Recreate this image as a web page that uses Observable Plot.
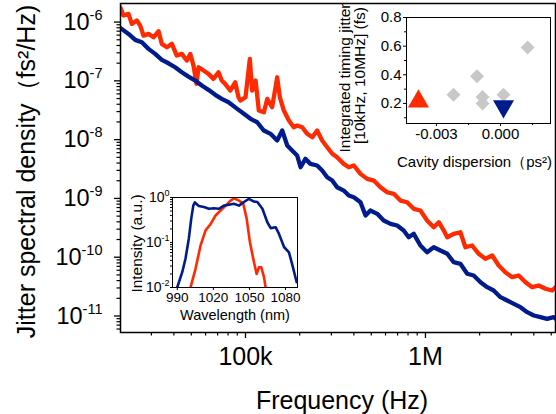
<!DOCTYPE html>
<html><head><meta charset="utf-8">
<script src="https://cdn.jsdelivr.net/npm/d3@7"></script>
<script src="https://cdn.jsdelivr.net/npm/@observablehq/plot@0.6"></script>
<style>
body{margin:0;background:#fff;}
#wrap{position:relative;width:556px;height:414px;overflow:hidden;}
#wrap svg{position:absolute;}
</style></head><body><div id="wrap"></div>
<script>
const FONT = '"Liberation Sans", Arial, Helvetica, sans-serif';
const RED = "#ff2a00";
const BLUE = "#001c8c";
const GRAY = "#c8c8c8";

// ---- main panel: jitter spectral density (log10 Hz, log10 fs^2/Hz) ----
const redLog10Freq = [4.304,4.322,4.350,4.368,4.396,4.415,4.433,4.461,4.489,4.517,4.535,4.563,4.591,4.618,4.646,4.674,4.693,4.711,4.728,4.739,4.767,4.794,4.822,4.850,4.868,4.887,4.915,4.943,4.961,4.972,5.000,5.024,5.037,5.056,5.074,5.102,5.121,5.148,5.176,5.191,5.213,5.241,5.268,5.287,5.315,5.343,5.371,5.398,5.426,5.454,5.482,5.509,5.546,5.574,5.602,5.639,5.676,5.713,5.750,5.787,5.824,5.861,5.898,5.935,5.972,6.009,6.046,6.074,6.102,6.121,6.157,6.194,6.222,6.259,6.296,6.333,6.371,6.407,6.444,6.482,6.518,6.556,6.593,6.629,6.667,6.704,6.724];
const redLog10Psd = [-5.748,-5.889,-5.861,-6.031,-5.974,-6.060,-6.230,-6.201,-6.259,-6.156,-6.371,-6.429,-6.371,-6.570,-6.541,-6.655,-6.541,-6.740,-7.050,-6.769,-6.825,-6.881,-6.966,-6.854,-6.995,-7.051,-7.165,-7.024,-7.279,-7.335,-7.279,-6.626,-7.165,-6.995,-7.505,-7.534,-7.306,-7.449,-6.939,-7.279,-7.505,-7.675,-7.789,-7.760,-7.789,-7.901,-7.959,-7.845,-8.015,-8.129,-8.241,-8.299,-8.412,-8.469,-8.440,-8.582,-8.667,-8.696,-8.810,-8.895,-8.922,-9.036,-9.065,-9.177,-9.206,-9.376,-9.490,-9.405,-9.546,-9.660,-9.602,-9.575,-9.830,-9.801,-9.942,-10.027,-9.971,-10.141,-10.255,-10.340,-10.311,-10.425,-10.510,-10.481,-10.537,-10.566,-10.510];
const blueLog10Freq = [4.304,4.350,4.387,4.424,4.461,4.498,4.535,4.572,4.609,4.646,4.683,4.721,4.757,4.794,4.832,4.868,4.906,4.954,4.991,5.028,5.065,5.102,5.139,5.176,5.204,5.232,5.259,5.287,5.306,5.333,5.361,5.398,5.426,5.454,5.482,5.509,5.546,5.574,5.602,5.639,5.667,5.694,5.732,5.768,5.806,5.843,5.879,5.907,5.935,5.972,6.009,6.046,6.083,6.121,6.157,6.194,6.232,6.268,6.306,6.343,6.379,6.417,6.454,6.491,6.528,6.565,6.602,6.639,6.676,6.713,6.725];
const blueLog10Psd = [-6.099,-6.201,-6.303,-6.344,-6.456,-6.541,-6.643,-6.701,-6.769,-6.854,-6.927,-6.995,-7.080,-7.153,-7.238,-7.306,-7.364,-7.476,-7.561,-7.646,-7.704,-7.845,-7.901,-8.015,-7.845,-8.100,-8.185,-8.270,-8.469,-8.327,-8.412,-8.440,-8.526,-8.639,-8.696,-8.810,-8.866,-8.950,-8.980,-9.065,-9.291,-9.206,-9.262,-9.376,-9.432,-9.461,-9.546,-9.660,-9.602,-9.801,-9.915,-9.830,-9.886,-9.942,-10.085,-10.112,-10.282,-10.311,-10.425,-10.510,-10.566,-10.680,-10.736,-10.793,-10.850,-10.935,-10.991,-11.020,-11.048,-11.020,-11.050];
const freqTicks = [1e5, 1e6];
const freqTickLabels = ["100k", "1M"];
const psdTicks = [1e-6, 1e-7, 1e-8, 1e-9, 1e-10, 1e-11];
const psdTickLabels = ["10⁻⁶", "10⁻⁷", "10⁻⁸", "10⁻⁹", "10⁻¹⁰", "10⁻¹¹"];

// ---- inset: optical spectrum (nm, log10 intensity a.u.) ----
const specBlueNm = [989.9,994.1,996.8,999.6,1001.6,1003.3,1004.6,1007.9,1012.1,1016.3,1020.4,1024.6,1028.8,1032.9,1037.1,1041.3,1045.4,1049.6,1053.8,1056.6,1060.8,1064.9,1067.7,1071.8,1074.6,1078.8,1082.9,1085.8,1089.3];
const specBlueLog10I = [-2.0,-1.66,-1.36,-0.91,-0.47,-0.18,-0.11,-0.19,-0.21,-0.25,-0.24,-0.25,-0.18,-0.16,-0.14,-0.18,-0.10,-0.03,-0.09,-0.10,-0.25,-0.55,-0.68,-0.66,-0.81,-1.10,-1.22,-1.51,-1.88];
const specRedNm = [1001.0,1005.2,1009.3,1013.5,1017.7,1021.8,1026.0,1030.2,1034.3,1037.1,1041.3,1044.9,1047.7,1050.4,1053.8,1056.0,1057.9,1059.9,1062.1,1063.5];
const specRedLog10I = [-2.0,-1.58,-1.07,-0.73,-0.59,-0.40,-0.29,-0.18,-0.07,-0.02,-0.07,-0.14,-0.47,-0.99,-1.44,-1.70,-1.55,-1.55,-1.77,-2.0];
const wlTicks = [990, 1020, 1050, 1080];
const intTicks = [1, 0.1, 0.01];
const intTickLabels = ["10⁰", "10⁻¹", "10⁻²"];

// ---- inset: integrated jitter vs cavity dispersion ----
const otherDispersion = [-0.0022, -0.0011, -0.00084, -0.00084, 0.00014, 0.00127];
const otherJitter = [0.26, 0.39, 0.245, 0.20, 0.26, 0.59];
const redDispersion = [-0.00384];
const redJitter = [0.214];
const blueDispersion = [0.00014];
const blueJitter = [0.18];
const dispTicks = [-0.003, 0];
const dispTickLabels = ["-0.003", "0.000"];
const dispMinorTicks = [-0.0015, 0.0015];
const jitTicks = [0.2, 0.4, 0.6, 0.8];
const jitMinorTicks = [0.1, 0.3, 0.5, 0.7];

// ---------- build tables ----------
const redSeries = redLog10Freq.map((f, i) => ({f: 10 ** f, s: 10 ** redLog10Psd[i]}));
const blueSeries = blueLog10Freq.map((f, i) => ({f: 10 ** f, s: 10 ** blueLog10Psd[i]}));
const specBlue = specBlueNm.map((w, i) => ({w, v: 10 ** specBlueLog10I[i]}));
const specRed = specRedNm.map((w, i) => ({w, v: 10 ** specRedLog10I[i]}));

function minorLog(lo, hi, e0, e1) {
  const out = [];
  for (let e = e0; e <= e1; e++) for (let k = 2; k <= 9; k++) {
    const v = k * 10 ** e;
    if (v > lo && v < hi) out.push(v);
  }
  return out;
}
const xDom = [20200, 5.28e6];
const yDom = [5.24e-12, 2.07e-6];
const freqMinor = minorLog(xDom[0], xDom[1], 4, 6);
const psdMinor = minorLog(yDom[0], yDom[1], -12, -7);
const intMinor = minorLog(0.01, 1, -2, -1);

// render "10⁻⁶"-style labels as "10" + a raised, smaller tspan
const SUP = {"⁻": "-", "⁰": "0", "¹": "1", "²": "2", "³": "3", "⁴": "4", "⁵": "5", "⁶": "6", "⁷": "7", "⁸": "8", "⁹": "9"};
function superscriptify(svg, supSize, rise) {
  d3.select(svg).selectAll("text").each(function () {
    const m = /^10([⁻⁰¹²³⁴⁵⁶⁷⁸⁹]+)$/.exec(this.textContent);
    if (!m) return;
    const sup = [...m[1]].map(c => SUP[c]).join("");
    const sel = d3.select(this);
    sel.text("10");
    sel.append("tspan").attr("dy", -rise).attr("font-size", supSize).text(sup);
  });
}

const wrap = document.getElementById("wrap");

const main = Plot.plot({
  width: 556, height: 414,
  marginLeft: 120, marginRight: 1, marginTop: 3, marginBottom: 82,
  style: {fontFamily: FONT, background: "white", color: "black"},
  x: {type: "log", domain: xDom},
  y: {type: "log", domain: yDom},
  marks: [
    Plot.line(redSeries, {x: "f", y: "s", stroke: RED, strokeWidth: 4.3, strokeLinejoin: "round", clip: true}),
    Plot.line(blueSeries, {x: "f", y: "s", stroke: BLUE, strokeWidth: 4.3, strokeLinejoin: "round", clip: true}),
    Plot.frame({stroke: "black", strokeWidth: 1.5}),
    Plot.axisX(freqTicks, {tickSize: 6, tickPadding: 9, strokeWidth: 1.3, fontSize: 25, label: null,
      tickFormat: d => freqTickLabels[freqTicks.indexOf(d)]}),
    Plot.axisX(freqMinor, {tickSize: 3.5, strokeWidth: 1.2, text: null, label: null}),
    Plot.axisY(psdTicks, {tickSize: 6, tickPadding: 12, strokeWidth: 1.3, fontSize: 23.5, label: null,
      tickFormat: d => psdTickLabels[psdTicks.indexOf(d)]}),
    Plot.axisY(psdMinor, {tickSize: 3.5, strokeWidth: 1.2, text: null, label: null}),
    Plot.text(["Frequency (Hz)"], {frameAnchor: "bottom", textAnchor: "middle", dx: 4, dy: 76, fontSize: 25}),
    Plot.text(["Jitter spectral density（fs²/Hz)"], {frameAnchor: "left", textAnchor: "middle", rotate: -90, dx: -94, dy: 3.5, fontSize: 25})
  ]
});
superscriptify(main, 14.5, 10);
main.style.left = "0px"; main.style.top = "0px";
wrap.appendChild(main);

// spectrum inset
const spec = Plot.plot({
  width: 190, height: 140,
  marginLeft: 52, marginRight: 13, marginTop: 17, marginBottom: 33,
  style: {fontFamily: FONT, background: "transparent", color: "black", overflow: "visible"},
  x: {domain: [986, 1090]},
  y: {type: "log", domain: [0.01, 1]},
  marks: [
    Plot.line(specRed, {x: "w", y: "v", stroke: RED, strokeWidth: 2.6, strokeLinejoin: "round", clip: true}),
    Plot.line(specBlue, {x: "w", y: "v", stroke: BLUE, strokeWidth: 2.6, strokeLinejoin: "round", clip: true}),
    Plot.frame({stroke: "black", strokeWidth: 1}),
    Plot.axisX(wlTicks, {tickSize: 3, tickPadding: 2, fontSize: 13.5, label: null, tickFormat: d => String(d)}),
    Plot.axisY(intTicks, {tickSize: 2, tickPadding: 1, fontSize: 14, label: null,
      tickFormat: d => intTickLabels[intTicks.indexOf(d)]}),
    Plot.axisY(intMinor, {tickSize: 2, text: null, label: null}),
    Plot.text(["Wavelength (nm)"], {frameAnchor: "bottom", textAnchor: "middle", dy: 32.5, fontSize: 14.5}),
    Plot.text(["Intensity (a.u.)"], {frameAnchor: "left", textAnchor: "middle", rotate: -90, dx: -35, dy: 1, fontSize: 15.5})
  ]
});
superscriptify(spec, 9, 6);
spec.style.left = "120px"; spec.style.top = "180px";
wrap.appendChild(spec);

// scatter inset
const triangleDown = {
  draw(context, size) {
    const y = -Math.sqrt(size / (Math.sqrt(3) * 3));
    context.moveTo(0, -y * 2);
    context.lineTo(-Math.sqrt(3) * y, y);
    context.lineTo(Math.sqrt(3) * y, y);
    context.closePath();
  }
};
const scat = Plot.plot({
  width: 226, height: 175,
  marginLeft: 76, marginRight: 6, marginTop: 17, marginBottom: 52,
  style: {fontFamily: FONT, background: "transparent", color: "black", overflow: "visible"},
  x: {domain: [-0.0044, 0.00234]},
  y: {domain: [0.06, 0.8]},
  marks: [
    Plot.frame({stroke: "black", strokeWidth: 1}),
    Plot.dot(otherDispersion.map((d, i) => ({d, j: otherJitter[i]})), {x: "d", y: "j", symbol: "diamond2", r: 6.3, fill: GRAY}),
    Plot.dot(redDispersion.map((d, i) => ({d, j: redJitter[i]})), {x: "d", y: "j", symbol: "triangle", r: 7.8, fill: RED}),
    Plot.dot(blueDispersion.map((d, i) => ({d, j: blueJitter[i]})), {x: "d", y: "j", symbol: triangleDown, r: 7.8, fill: BLUE}),
    Plot.axisX(dispTicks, {tickSize: 3, tickPadding: 2, fontSize: 15, label: null,
      tickFormat: d => dispTickLabels[dispTicks.indexOf(d)]}),
    Plot.axisX(dispMinorTicks, {tickSize: 2, text: null, label: null}),
    Plot.axisY(jitTicks, {tickSize: 3, tickPadding: 2, fontSize: 15, label: null, tickFormat: d => d.toFixed(1)}),
    Plot.axisY(jitMinorTicks, {tickSize: 2, text: null, label: null}),
    Plot.text(["Cavity dispersion（ps²)"], {frameAnchor: "bottom", textAnchor: "middle", dx: -4, dy: 43, fontSize: 15}),
    Plot.text(["Integrated timing jitter"], {frameAnchor: "left", textAnchor: "middle", rotate: -90, dx: -61, dy: 7.5, fontSize: 15.5}),
    Plot.text(["[10kHz, 10MHz] (fs)"], {frameAnchor: "left", textAnchor: "middle", rotate: -90, dx: -46, dy: 5, fontSize: 15.5})
  ]
});
scat.style.left = "330px"; scat.style.top = "0px";
wrap.appendChild(scat);
</script></body></html>
